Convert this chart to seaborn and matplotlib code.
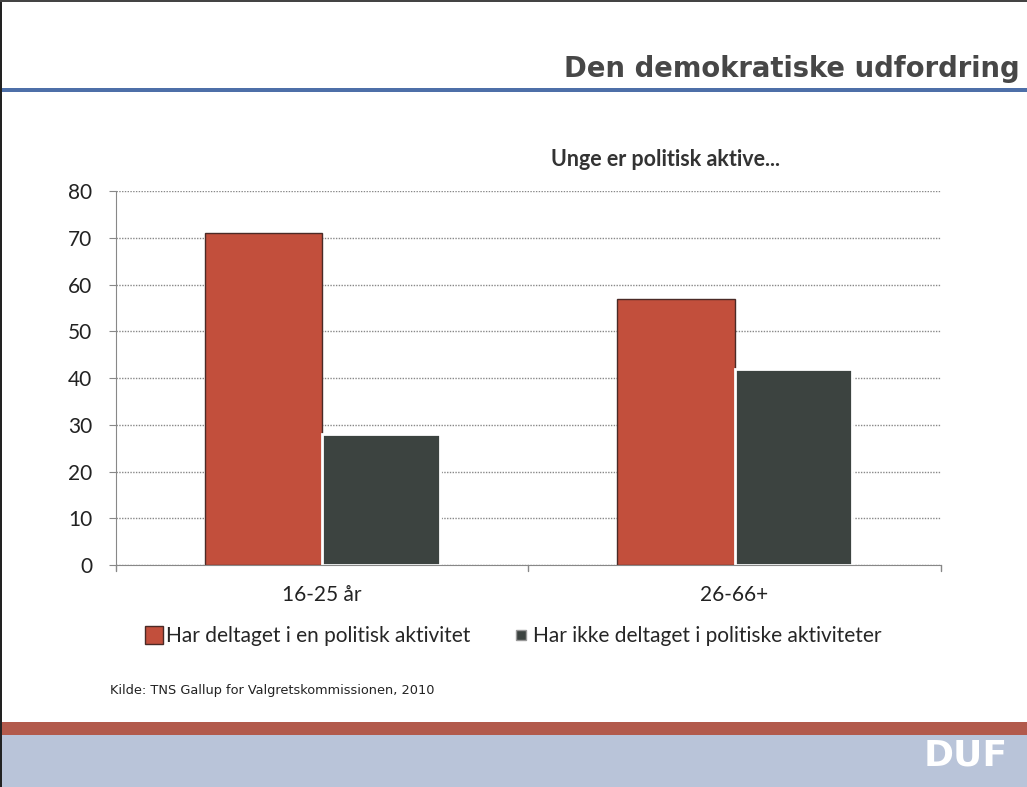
import matplotlib
matplotlib.use("Agg")
import matplotlib.pyplot as plt
from matplotlib.patches import Rectangle
from matplotlib.lines import Line2D
import pandas as pd
import seaborn as sns

# data
groups = ["16-25 år", "26-66+"]
series = ["Har deltaget i en politisk aktivitet", "Har ikke deltaget i politiske aktiviteter"]
deltaget = [71, 57]
ikke_deltaget = [28, 42]
yticks = [0, 10, 20, 30, 40, 50, 60, 70, 80]

df = pd.DataFrame({
    "gruppe": groups * 2,
    "serie": [series[0]] * 2 + [series[1]] * 2,
    "pct": deltaget + ikke_deltaget,
})

sns.set_style("white")
plt.rcParams["font.family"] = ["Lato", "DejaVu Sans"]

RED = "#c24f3c"
DARK = "#3c4340"

fig = plt.figure(figsize=(10.27, 7.87), dpi=100)

# slide decorations
fig.add_artist(Rectangle((0, 0.883), 1, 0.005, transform=fig.transFigure, color="#4d6fa8", lw=0))
fig.add_artist(Rectangle((0, 0.0), 1, 0.066, transform=fig.transFigure, color="#b9c4d9", lw=0))
fig.add_artist(Rectangle((0, 0.066), 1, 0.016, transform=fig.transFigure, color="#b25a4c", lw=0))
fig.add_artist(Rectangle((0, 0), 0.002, 1, transform=fig.transFigure, color="#222222", lw=0))
fig.add_artist(Rectangle((0, 0.997), 1, 0.003, transform=fig.transFigure, color="#444444", lw=0))

fig.text(0.993, 0.912, "Den demokratiske udfordring", ha="right", va="center",
         fontsize=19.8, fontweight="bold", color="#474747", family="DejaVu Sans")
fig.text(0.648, 0.797, "Unge er politisk aktive...", ha="center", va="center",
         fontsize=15.5, fontweight="bold", color="#333333")
fig.text(0.107, 0.123, "Kilde: TNS Gallup for Valgretskommissionen, 2010", ha="left", va="center",
         fontsize=9.3, color="#222222", family="DejaVu Sans")
fig.text(0.94, 0.04, "DUF", ha="center", va="center", fontsize=26, fontweight="bold",
         color="white", family="DejaVu Sans")

ax = fig.add_axes([0.113, 0.282, 0.803, 0.475])
sns.barplot(data=df, x="gruppe", y="pct", hue="serie", hue_order=series,
            palette=[RED, DARK], saturation=1, width=0.57, ax=ax, legend=False)

for i, bar in enumerate(ax.patches):
    if i < 2:
        bar.set_edgecolor("#4a2a26")
        bar.set_linewidth(1)
    else:
        bar.set_edgecolor("white")
        bar.set_linewidth(2)

ax.set_ylim(0, 80)
ax.set_xlim(-0.5, 1.5)
ax.set_yticks(yticks)
ax.set_yticklabels([str(t) for t in yticks], fontsize=15, color="#222222")
ax.yaxis.grid(True, linestyle=(0, (1, 1)), color="#888888", linewidth=1)
ax.set_axisbelow(True)

ax.set_xticks([0, 1])
ax.set_xticklabels(groups, fontsize=15, color="#222222")
ax.tick_params(axis="x", length=0, pad=14)
ax.tick_params(axis="y", length=5, color="#888888", direction="out", left=True, pad=12)
# category boundary ticks
for xb in [-0.5, 0.5, 1.5]:
    ax.plot([xb, xb], [0, -1.2], color="#888888", lw=1, clip_on=False)

ax.set_xlabel("")
ax.set_ylabel("")
for side in ["top", "right"]:
    ax.spines[side].set_visible(False)
ax.spines["left"].set_color("#888888")
ax.spines["left"].set_linestyle((0, (1, 1)))
ax.spines["bottom"].set_color("#888888")

handles = [Line2D([], [], marker="s", linestyle="none", markersize=13, markerfacecolor=RED,
                  markeredgecolor="#4a2a26", label=series[0]),
           Line2D([], [], marker="s", linestyle="none", markersize=7, markerfacecolor=DARK,
                  markeredgecolor="#999999", label=series[1])]
fig.legend(handles=handles, loc="center", bbox_to_anchor=(0.5, 0.192), ncol=2,
           frameon=False, fontsize=15, handlelength=0.8, handletextpad=0.2, columnspacing=2.0)

fig.savefig("out.png", dpi=100)
